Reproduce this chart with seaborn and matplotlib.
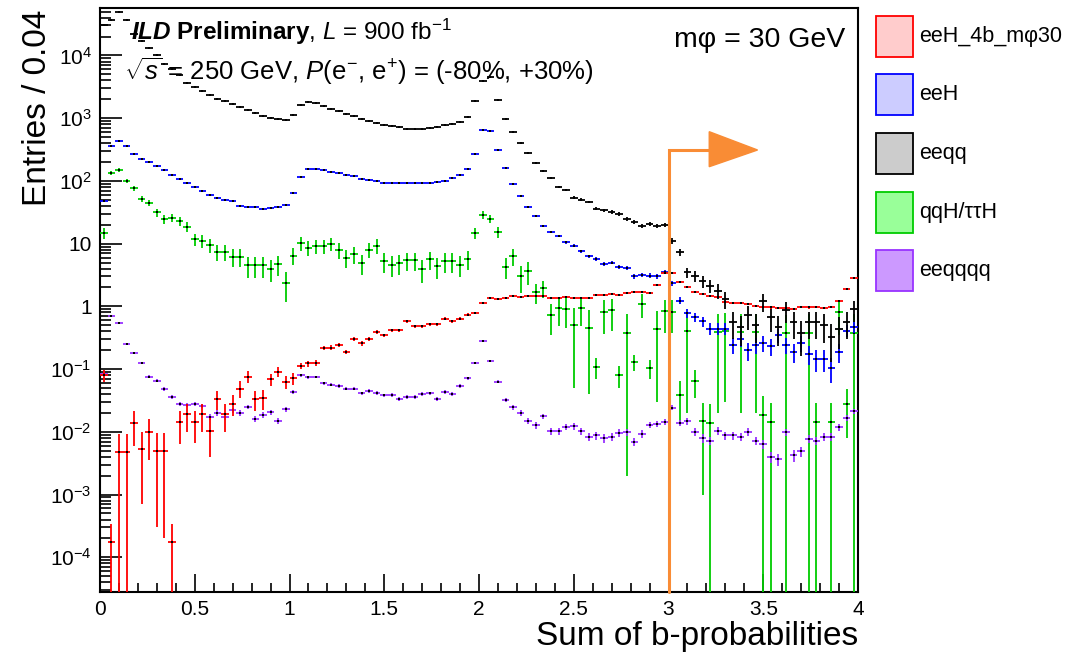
import numpy as np
import pandas as pd
import matplotlib
matplotlib.use("Agg")
import matplotlib.pyplot as plt
import matplotlib.transforms as mtransforms
import seaborn as sns
from matplotlib.patches import Rectangle, Polygon
from matplotlib.ticker import LogLocator, MultipleLocator, FuncFormatter, NullFormatter

# ---------------- data ----------------
x_min, x_max, bin_width = 0.0, 4.0, 0.04
cut_value = 3.0

samples = ["eeH_4b_mφ30", "eeH", "eeqq", "qqH/ττH", "eeqqqq"]

red_vals = [0.08, 1.75e-4, 0.0047, 0.0047, 0.0138, 0.0054, 0.0098, 0.0050, 0.0049, 1.75e-4,
            0.0141, 0.019, 0.0141, 0.019, 0.0104, 0.033, 0.019, 0.028, 0.049, 0.076,
            0.0333, 0.034, 0.069, 0.091, 0.063, 0.071, 0.112, 0.123, 0.127, 0.218,
            0.22, 0.245, 0.188, 0.30, 0.256, 0.30, 0.39, 0.345, 0.415, 0.415,
            0.575, 0.48, 0.485, 0.52, 0.52, 0.635, 0.575, 0.635, 0.74, 0.78,
            1.14, 1.37, 1.32, 1.38, 1.44, 1.43, 1.48, 1.45, 1.44, 1.34,
            1.38, 1.42, 1.38, 1.36, 1.38, 1.52, 1.50, 1.55, 1.54, 1.63,
            1.68, 1.72, 1.63, 2.23, 3.4, 3.45, 2.48, 2.07, 1.72, 1.58,
            1.44, 1.40, 1.17, 1.13, 1.13, 1.11, 1.00, 0.99, 0.96, 0.93,
            0.93, 0.90, 0.99, 0.96, 0.97, 0.93, 0.97, 1.2, 1.86, 2.8]
red_err_low = [0.017, 1.6e-4, 0.0047, 0.0047, 0.0078, 0.0047, 0.0063, 0.0047, 0.0047, 1.6e-4,
               0.0077, 0.0092, 0.0075, 0.009, 0.0065, 0.011, 0.009, 0.010, 0.015, 0.017,
               0.012, 0.012, 0.016, 0.016, 0.015, 0.016]
red_weight = 0.0015

blue_vals = [48, 358, 430, 358, 271, 226, 202, 173, 149, 124,
             106, 94, 80, 69, 60, 53, 49, 47, 40, 39,
             37.7, 36, 36.7, 37.7, 41, 65, 117, 155, 155, 148,
             137, 132, 123, 118, 109, 102, 98, 94, 92, 92,
             91, 91, 91, 92, 97, 100, 110, 123, 157, 271,
             646, 630, 313, 158, 88, 58, 38.6, 27.7, 19.2, 15.5,
             13.4, 10.5, 9.3, 7.5, 6.3, 5.7, 4.75, 5.0, 4.3, 4.07,
             3.0, 3.2, 3.1, 3.0, 3.5, 2.35, 1.24, 0.78, 0.68, 0.58,
             0.44, 0.44, 0.44, 0.245, 0.306, 0.20, 0.245, 0.263, 0.231, 0.347,
             0.245, 0.188, 0.263, 0.173, 0.145, 0.145, 0.106, 0.188, 0.41, 0.47]
blue_weight = 0.02

black_vals = [30000, 36700, 50000, 36700, 22000, 17000, 13300, 10000, 7300, 6000,
              4900, 3600, 3100, 2700, 2300, 2000, 1850, 1700, 1500, 1350,
              1200, 1100, 1000, 960, 950, 1130, 1620, 1800, 1750, 1550,
              1420, 1280, 1180, 1070, 975, 890, 840, 780, 740, 710,
              680, 680, 680, 700, 720, 770, 820, 870, 1050, 1860,
              3850, 4500, 1970, 986, 600, 405, 275, 190, 144, 110,
              80, 72, 54, 50, 46, 36, 34, 32, 29.5, 25,
              22, 19, 20.5, 19, 20, 11.2, 7.3, 3.5, 3.1, 2.5,
              2.15, 1.78, 1.32, 0.56, 0.47, 0.72, 0.51, 1.2, 0.68, 0.47,
              0.86, 0.56, 0.37, 0.56, 0.56, 0.51, 0.33, 0.44, 0.56, 0.9]
black_weight = 0.12

green_vals = [15, 135, 149, 100, 76, 51, 45, 31.4, 24.6, 26,
              22.6, 18.6, 11.8, 11.1, 9.6, 7.3, 7.3, 6.2, 6.2, 4.5,
              4.5, 4.5, 4.0, 4.7, 2.35, 6.45, 10.2, 8.6, 9.2, 9.2,
              10.0, 7.9, 5.9, 6.8, 4.9, 8.0, 9.3, 5.2, 4.6, 4.9,
              5.4, 5.4, 3.9, 5.6, 4.35, 5.2, 5.2, 4.6, 5.7, 14.8,
              29, 24.8, 15.3, 4.3, 6.4, 3.0, 3.7, 1.7, 1.95, 0.72,
              0.93, 0.9, 0.5, 0.93, 0.46, 0.11, 0.81, 0.86, 0.082, 0.38,
              0.13, 1.1, 0.105, 0.43, 0.83, 0.82, 0.039, 0.40, 0.065, 0.0148,
              0.014, 0.39, 0.40, 0, 0.39, 0, 0.39, 0.0186, 0.0146, 0,
              0.37, 0, 0, 0.38, 0.0146, 0, 0.0146, 0.8, 0.028, 0.38]
green_weight = 0.6
green_err_tail = [0.6, 0.6, 0.37, 0.45, 0.45, 0.45, 0.45, 0.42, 0.04, 0.45,
                  0.45, 0.032, 0.378, 0.035, 0.45, 0.035, 0.40, 0.45, 0.45, 0.026,
                  0.38, 0.031, 0.0138, 0.014, 0.37, 0.37, 0, 0.37, 0, 0.37,
                  0.0186, 0.0146, 0, 0.37, 0, 0, 0.38, 0.0146, 0, 0.0146,
                  0.45, 0.02, 0.38]  # bins 57..99

purple_vals = [0.085, 0.70, 0.54, 0.255, 0.178, 0.126, 0.076, 0.065, 0.048, 0.036,
               0.028, 0.027, 0.028, 0.026, 0.0174, 0.020, 0.0174, 0.022, 0.020, 0.025,
               0.016, 0.0187, 0.0205, 0.0148, 0.023, 0.043, 0.080, 0.074, 0.075, 0.059,
               0.056, 0.054, 0.049, 0.049, 0.041, 0.0446, 0.042, 0.038, 0.039, 0.033,
               0.036, 0.036, 0.040, 0.041, 0.033, 0.043, 0.040, 0.054, 0.071, 0.127,
               0.277, 0.133, 0.063, 0.032, 0.0245, 0.020, 0.015, 0.0128, 0.0178, 0.0102,
               0.0103, 0.012, 0.0122, 0.0103, 0.0084, 0.0088, 0.0079, 0.0083, 0.0096, 0.0099,
               0.0070, 0.0093, 0.0129, 0.0133, 0.0145, 0.0244, 0.014, 0.0147, 0.0100, 0.0079,
               0.0072, 0.0104, 0.0088, 0.0088, 0.0084, 0.0100, 0.0072, 0.0063, 0.0040, 0.0037,
               0.0099, 0.0042, 0.0049, 0.0078, 0.0072, 0.0084, 0.0083, 0.0118, 0.0165, 0.0214]
purple_weight = 1.8e-4

line_colors = {"eeH_4b_mφ30": "#ff0000", "eeH": "#0000ff", "eeqq": "#000000",
               "qqH/ττH": "#00cc00", "eeqqqq": "#9933ff"}
fill_colors = {"eeH_4b_mφ30": "#ffcccc", "eeH": "#ccccff", "eeqq": "#cccccc",
               "qqH/ττH": "#99ff99", "eeqqqq": "#cc99ff"}

# ---------------- build table ----------------
edges = np.arange(x_min, x_max + bin_width / 2, bin_width)
centers = 0.5 * (edges[:-1] + edges[1:])

def errs_from_weight(vals, w):
    v = np.asarray(vals, float)
    return np.sqrt(v * w)

red = np.asarray(red_vals, float)
red_err = errs_from_weight(red, red_weight)
red_err[:len(red_err_low)] = red_err_low

green = np.asarray(green_vals, float)
green_err = errs_from_weight(green, green_weight)
green_err[57:] = green_err_tail

series = {
    "eeH_4b_mφ30": (red, red_err),
    "eeH": (np.asarray(blue_vals, float), errs_from_weight(blue_vals, blue_weight)),
    "eeqq": (np.asarray(black_vals, float), errs_from_weight(black_vals, black_weight)),
    "qqH/ττH": (green, green_err),
    "eeqqqq": (np.asarray(purple_vals, float), errs_from_weight(purple_vals, purple_weight)),
}
frames = []
for name, (v, e) in series.items():
    frames.append(pd.DataFrame({"sample": name, "x": centers, "y": v, "err": e}))
df = pd.concat(frames, ignore_index=True)
df = df[df["y"] > 0]

# ---------------- style ----------------
sns.set_theme(style="ticks")
plt.rcParams['font.family'] = ['Liberation Sans', 'DejaVu Sans']
plt.rcParams['text.color'] = 'black'
plt.rcParams['axes.labelcolor'] = 'black'
plt.rcParams['xtick.color'] = 'black'
plt.rcParams['ytick.color'] = 'black'
plt.rcParams['mathtext.fontset'] = 'custom'
plt.rcParams['mathtext.rm'] = 'Liberation Sans'
plt.rcParams['mathtext.it'] = 'Liberation Sans:italic'
plt.rcParams['mathtext.bf'] = 'Liberation Sans:bold'
try:
    plt.rcParams['mathtext.bfit'] = 'Liberation Sans:bold:italic'
except KeyError:
    pass

W, H = 1076, 663
fig = plt.figure(figsize=(W / 100, H / 100), dpi=100)
fig.patch.set_facecolor("white")
ax_l, ax_r, ax_t, ax_b = 100, 858, 8, 592
ax = fig.add_axes([ax_l / W, 1 - ax_b / H, (ax_r - ax_l) / W, (ax_b - ax_t) / H])
ax.set_facecolor("white")

draw_order = ["qqH/ττH", "eeqqqq", "eeH", "eeqq", "eeH_4b_mφ30"]
for k, name in enumerate(draw_order):
    d = df[df["sample"] == name]
    lo = np.minimum(d["err"].values, d["y"].values * (1 - 1e-6))
    ax.errorbar(d["x"], d["y"], xerr=bin_width / 2, yerr=[lo, d["err"].values],
                fmt="none", ecolor=line_colors[name], elinewidth=1.3, capsize=0,
                zorder=3 + k)
    sns.scatterplot(data=d, x="x", y="y", color="black", s=1.6, linewidth=0,
                    marker="s", ax=ax, zorder=3.5 + k, legend=False)

ax.set_yscale("log")
ax.set_xlim(x_min, x_max)
ax.set_ylim(2.8e-5, 5.7e4)

# ticks
ax.xaxis.set_major_locator(MultipleLocator(0.5))
ax.xaxis.set_minor_locator(MultipleLocator(0.1))
ax.xaxis.set_major_formatter(FuncFormatter(lambda v, p: "%g" % v))
ax.yaxis.set_major_locator(LogLocator(base=10, numticks=30))
ax.yaxis.set_minor_locator(LogLocator(base=10, subs=np.arange(2, 10), numticks=30))
ax.yaxis.set_minor_formatter(NullFormatter())

def yfmt(v, pos):
    e = int(round(np.log10(v)))
    if e == 0:
        return "1"
    if e == 1:
        return "10"
    return r"$10^{%d}$" % e

ax.yaxis.set_major_formatter(FuncFormatter(yfmt))
ax.tick_params(axis="both", which="both", direction="in", top=False, right=False,
               width=1.2, color="black", labelcolor="black", labelsize=15)
ax.tick_params(axis="y", which="major", length=16, pad=6)
ax.tick_params(axis="y", which="minor", length=8)
ax.tick_params(axis="x", which="major", length=13, pad=6)
ax.tick_params(axis="x", which="minor", length=6.5)
for s in ax.spines.values():
    s.set_linewidth(1.5)
    s.set_color("black")
    s.set_visible(True)

ax.set_xlabel("Sum of b-probabilities", fontsize=24, loc="right", color="black")
ax.xaxis.set_label_coords(1.0, -0.05)
ax.xaxis.label.set_va("top")
ax.set_ylabel("Entries / 0.04", fontsize=24, loc="top", color="black")
ax.yaxis.set_label_coords(-0.062, 0.997)

# cut arrow
orange = "#f98c35"
blend = mtransforms.blended_transform_factory(ax.transData, ax.transAxes)
arrow_y = (ax_b - 150) / (ax_b - ax_t)
ax.plot([cut_value, cut_value, 3.22], [0.0, arrow_y, arrow_y], color=orange, lw=2.2,
        transform=blend, zorder=20, solid_joinstyle="miter", clip_on=False)
head = Polygon([[3.215, (ax_b - 131.7) / (ax_b - ax_t)],
                [3.47, arrow_y],
                [3.215, (ax_b - 166.7) / (ax_b - ax_t)]],
               closed=True, facecolor=orange, edgecolor=orange, transform=blend, zorder=20)
ax.add_patch(head)

# texts
def fx(px):
    return px / W

def fy(py):
    return 1 - py / H

fig.text(fx(131), fy(40), r"$\mathbfit{ILD}$ $\mathbf{Preliminary}$, $L$ = 900 fb$^{-1}$",
         fontsize=17.5, va="baseline", ha="left", color="black")
fig.text(fx(124), fy(80), r"$\sqrt{s}$ = 250 GeV, $P$(e$^{-}$, e$^{+}$) = (-80%, +30%)",
         fontsize=18.5, va="baseline", ha="left", color="black")
fig.text(fx(845), fy(47), "mφ = 30 GeV", fontsize=20.5, va="baseline", ha="right",
         color="black")

# legend (manual, ROOT style)
box_x0, box_x1 = 876, 912.5
box_tops = [16, 74, 132.7, 191.7, 250]
box_h = 41
for name, top in zip(samples, box_tops):
    r = Rectangle((fx(box_x0), fy(top + box_h)), (box_x1 - box_x0) / W, box_h / H,
                  transform=fig.transFigure, facecolor=fill_colors[name],
                  edgecolor=line_colors[name], linewidth=1.3)
    fig.add_artist(r)
    fig.text(fx(919), fy(top + box_h / 2), name, fontsize=15.5, va="center", ha="left",
             color="black")

fig.savefig("out.png", dpi=100, facecolor="white")
